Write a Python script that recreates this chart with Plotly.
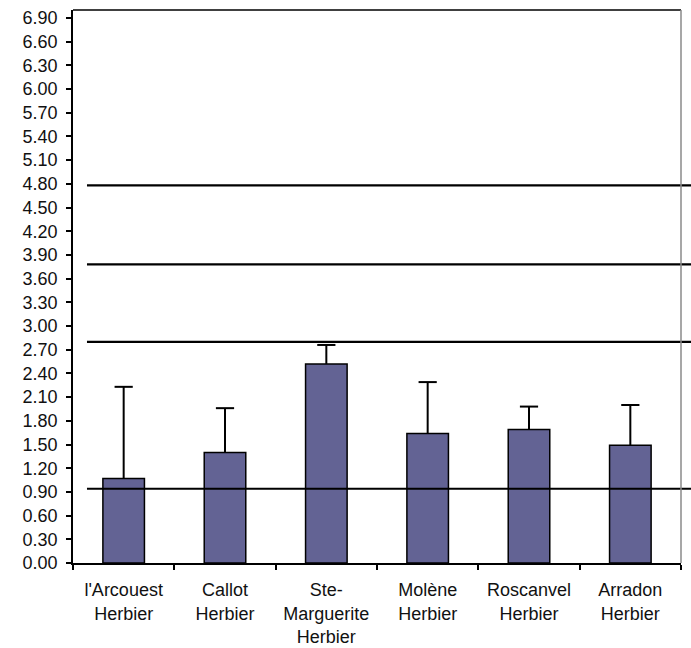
import plotly.graph_objects as go

# Sites (category axis) and mean values with upper error bars
sites = ["l'Arcouest<br>Herbier", "Callot<br>Herbier", "Ste-<br>Marguerite<br>Herbier",
         "Molène<br>Herbier", "Roscanvel<br>Herbier", "Arradon<br>Herbier"]
means = [1.07, 1.40, 2.52, 1.64, 1.69, 1.49]
err_plus = [1.16, 0.56, 0.24, 0.65, 0.29, 0.51]

# Reference threshold levels drawn as horizontal lines
thresholds = [0.94, 2.80, 3.78, 4.78]

# Y axis tick values
y_ticks = [round(0.3 * i, 2) for i in range(24)]
y_labels = [f"{v:.2f}" for v in y_ticks]

FONT = "Liberation Sans, Arial, sans-serif"
TEXT = "#111111"

fig = go.Figure()
# Bars with the upper error stem (no caps at the bar top)
fig.add_trace(go.Bar(
    x=sites,
    y=means,
    marker=dict(color="#636394", line=dict(color="black", width=1.5)),
    error_y=dict(type="data", symmetric=False, array=err_plus,
                 arrayminus=[0] * len(means), color="black",
                 thickness=2, width=0),
))
# Caps at the top of each error bar
fig.add_trace(go.Scatter(
    x=sites,
    y=[m + e for m, e in zip(means, err_plus)],
    mode="markers",
    marker=dict(symbol="line-ew", size=13, line=dict(color="black", width=2)),
    hoverinfo="skip",
))

for level in thresholds:
    fig.add_shape(type="line", xref="paper", yref="y",
                  x0=0.023, x1=1.05, y0=level, y1=level,
                  line=dict(color="black", width=2.2), layer="above")

# Top border (black) and right border (grey) of the plot frame
fig.add_shape(type="line", xref="paper", yref="paper", x0=0, x1=1, y0=1, y1=1,
              line=dict(color="black", width=1.5))
fig.add_shape(type="line", xref="paper", yref="paper", x0=1, x1=1, y0=0, y1=1,
              line=dict(color="#8a8a8a", width=1.5))

fig.update_layout(
    width=691, height=648,
    margin=dict(l=73, r=10, t=10, b=85),
    paper_bgcolor="white", plot_bgcolor="white",
    bargap=0.59,
    showlegend=False,
    font=dict(family=FONT, color=TEXT),
)
fig.update_xaxes(
    type="category", automargin=False,
    showline=True, linecolor="black", linewidth=1.5,
    ticks="outside", tickson="boundaries", ticklen=5, tickcolor="black", tickwidth=1.5,
    tickfont=dict(size=18, family=FONT, color=TEXT),
    ticklabelstandoff=10,
    showgrid=False, zeroline=False,
)
fig.update_yaxes(
    range=[0, 7.0], automargin=False,
    tickvals=y_ticks, ticktext=y_labels,
    showline=True, linecolor="black", linewidth=1.5,
    ticks="outside", ticklen=5, tickcolor="black", tickwidth=1.5,
    tickfont=dict(size=18, family=FONT, color=TEXT),
    ticklabelstandoff=5,
    showgrid=False, zeroline=False,
)

fig.write_html("out.html")
